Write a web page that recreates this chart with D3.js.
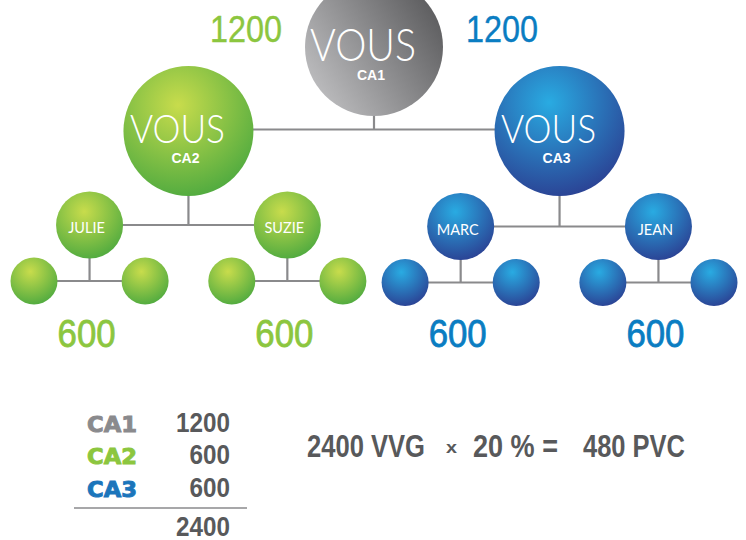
<!DOCTYPE html>
<html><head><meta charset="utf-8">
<script src="https://cdn.jsdelivr.net/npm/d3@7/dist/d3.min.js"></script>
<style>
html,body{margin:0;padding:0;background:#fff;}
svg{display:block;}
</style></head>
<body><svg id="c" width="746" height="540"></svg>
<script>
// ---- data ----
const rootLabel = "VOUS";
const caLabels = ["CA1", "CA2", "CA3"];
const caValues = [1200, 600, 600];
const caGroups = ["grey", "green", "blue"];
const branchValues = [1200, 1200];          // shown above CA2 / CA3 branches
const teamNames = ["JULIE", "SUZIE", "MARC", "JEAN"];
const teamValues = [600, 600, 600, 600];
const leavesPerMember = [2, 2, 2, 2];
const totalVVG = 2400;
const ratePct = 20;
const pvc = 480;

// ---- hierarchy built from the arrays ----
const treeData = {
  name: rootLabel, sub: caLabels[0], group: caGroups[0],
  children: [1, 2].map((ci, k) => ({
    name: rootLabel, sub: caLabels[ci], group: caGroups[ci], branch: branchValues[k],
    children: teamNames.slice(k * 2, k * 2 + 2).map((n, j) => ({
      name: n, group: caGroups[ci], value: teamValues[k * 2 + j],
      children: d3.range(leavesPerMember[k * 2 + j]).map(() => ({ group: caGroups[ci] }))
    }))
  }))
};

const svg = d3.select("#c");

const root = d3.hierarchy(treeData);
d3.tree().nodeSize([1, 1]).separation((a, b) => {
  if (a.parent === b.parent) return 1;
  if (a.parent && b.parent && a.parent.parent === b.parent.parent) return 0.78;
  return 0.56;
})(root);

const leaves = root.leaves();
const x = d3.scaleLinear()
  .domain(d3.extent(leaves, d => d.x))
  .range([34, 714]);
const y = d3.scaleOrdinal().domain([0, 1, 2, 3]).range([47, 131, 225, 281]);
const r = d3.scaleOrdinal().domain([0, 1, 2, 3]).range([69, 65, 33.5, 23.5]);
const groupShift = d3.scaleOrdinal().domain(["grey", "green", "blue"]).range([0, 0, 1.5]);

root.each(d => { d.px = x(d.x); d.py = y(d.depth) + (d.depth >= 2 ? groupShift(d.data.group) : 0); });

// ---- gradients ----
const defs = svg.append("defs");
const rg = (id, c0, c1, cx, cy, rr) => {
  const g = defs.append("radialGradient").attr("id", id)
    .attr("cx", cx).attr("cy", cy).attr("fx", cx).attr("fy", cy).attr("r", rr);
  g.append("stop").attr("offset", "0%").attr("stop-color", c0);
  g.append("stop").attr("offset", "100%").attr("stop-color", c1);
};
rg("green", "#c8dc4c", "#4ca93f", "42%", "30%", "75%");
rg("blue", "#29abe2", "#2b3a8e", "42%", "28%", "80%");
const lg = defs.append("linearGradient").attr("id", "grey")
  .attr("x1", "0%").attr("y1", "85%").attr("x2", "100%").attr("y2", "20%");
lg.append("stop").attr("offset", "0%").attr("stop-color", "#c3c3c5");
lg.append("stop").attr("offset", "100%").attr("stop-color", "#58585a");

// ---- connectors ----
const lineCol = "#8a8a8c";
const links = svg.append("g").attr("stroke", lineCol).attr("stroke-width", 2.2).attr("fill", "none");
root.descendants().filter(d => d.children).forEach(d => {
  const cy = d.depth === 0 ? d.children[0].py - 1.5 : d.children[0].py;
  const c0 = d.children[0], c1 = d.children[d.children.length - 1];
  links.append("line").attr("x1", d.px).attr("x2", d.px).attr("y1", d.py).attr("y2", cy);
  links.append("line").attr("x1", c0.px).attr("x2", c1.px).attr("y1", cy).attr("y2", cy);
});

// ---- circles ----
svg.append("g").selectAll("circle").data(root.descendants()).join("circle")
  .attr("cx", d => d.px).attr("cy", d => d.py).attr("r", d => r(d.depth))
  .attr("fill", d => `url(#${d.data.group})`);

// ---- labels in circles ----
const big = root.descendants().filter(d => d.depth <= 1);
const vousW = d3.scaleOrdinal().domain([0, 1]).range([106, 95]);
const vousF = d3.scaleOrdinal().domain([0, 1]).range([46, 40]);
svg.append("g").selectAll("text").data(big).join("text")
  .attr("x", d => d.px - 11).attr("y", d => d.depth === 0 ? 61 : d.py + 12)
  .attr("text-anchor", "middle")
  .attr("font-family", "Lato, 'Open Sans', sans-serif").attr("font-weight", 300)
  .attr("font-size", d => vousF(d.depth)).attr("fill", "#fff")
  .attr("textLength", d => vousW(d.depth)).attr("lengthAdjust", "spacingAndGlyphs")
  .text(d => d.data.name);
svg.append("g").selectAll("text").data(big).join("text")
  .attr("x", d => d.px - 3).attr("y", d => d.depth === 0 ? 80 : d.py + 32)
  .attr("text-anchor", "middle")
  .attr("font-family", "'Liberation Sans', Arial, sans-serif").attr("font-weight", 700)
  .attr("font-size", 14).attr("fill", "#fff")
  .text(d => d.data.sub);

const members = root.descendants().filter(d => d.depth === 2);
svg.append("g").selectAll("text").data(members).join("text")
  .attr("x", d => d.px - 3).attr("y", d => d.py + 8)
  .attr("text-anchor", "middle")
  .attr("font-family", "Lato, 'Open Sans', sans-serif").attr("font-weight", 400)
  .attr("font-size", 14.5).attr("fill", "#fff")
  .text(d => d.data.name);

// ---- values ----
const colorOf = d3.scaleOrdinal().domain(["grey", "green", "blue"]).range(["#8a8a8d", "#8cc63f", "#0a7dc2"]);
const narrow = "'Liberation Sans Narrow', 'Arial Narrow', 'Liberation Sans', sans-serif";

svg.append("g").selectAll("text").data(root.children).join("text")
  .attr("x", d => d3.interpolateNumber(d.px, root.px)(0.31))
  .attr("y", 42)
  .attr("text-anchor", "middle")
  .attr("font-family", narrow).attr("font-size", 37)
  .attr("fill", d => colorOf(d.data.group))
  .attr("stroke", d => colorOf(d.data.group)).attr("stroke-width", 0.4)
  .attr("textLength", 72).attr("lengthAdjust", "spacingAndGlyphs")
  .text(d => d.data.branch);

svg.append("g").selectAll("text").data(members).join("text")
  .attr("x", d => d.px - 3).attr("y", 347)
  .attr("text-anchor", "middle")
  .attr("font-family", narrow).attr("font-size", 38)
  .attr("fill", d => colorOf(d.data.group))
  .attr("stroke", d => colorOf(d.data.group)).attr("stroke-width", 0.8)
  .attr("textLength", 58).attr("lengthAdjust", "spacingAndGlyphs")
  .text(d => d.data.value);

// ---- summary table ----
const dark = "#58595b";
const rowY = d3.scaleOrdinal().domain([0, 1, 2]).range([432, 464, 497]);
const labCol = d3.scaleOrdinal().domain([0, 1, 2]).range(["#8a8a8d", "#8cc63f", "#1b75bb"]);
const tbl = svg.append("g");
tbl.selectAll("text.lab").data(caLabels).join("text").attr("class", "lab")
  .attr("x", 87).attr("y", (d, i) => rowY(i))
  .attr("font-family", "'DejaVu Sans', sans-serif").attr("font-weight", 700)
  .attr("font-size", 20.5).attr("fill", (d, i) => labCol(i))
  .attr("stroke", (d, i) => labCol(i)).attr("stroke-width", 0.9)
  .attr("textLength", 50).attr("lengthAdjust", "spacingAndGlyphs")
  .text(d => d);
tbl.selectAll("text.val").data(caValues).join("text").attr("class", "val")
  .attr("x", 230).attr("y", (d, i) => rowY(i))
  .attr("text-anchor", "end")
  .attr("font-family", narrow).attr("font-weight", 700)
  .attr("font-size", 27).attr("fill", dark)
  .attr("textLength", d => String(d).length * 13.5).attr("lengthAdjust", "spacingAndGlyphs")
  .text(d => d);
tbl.append("line").attr("x1", 74).attr("x2", 247).attr("y1", 508).attr("y2", 508)
  .attr("stroke", lineCol).attr("stroke-width", 1.5);
tbl.append("text").attr("x", 230).attr("y", 536).attr("text-anchor", "end")
  .attr("font-family", narrow).attr("font-weight", 700)
  .attr("font-size", 27).attr("fill", dark)
  .attr("textLength", 54).attr("lengthAdjust", "spacingAndGlyphs")
  .text(d3.sum(caValues));

// ---- formula ----
const f = svg.append("g").attr("font-family", narrow).attr("font-weight", 700).attr("fill", dark);
f.append("text").attr("x", 307).attr("y", 457).attr("font-size", 31)
  .attr("textLength", 118).attr("lengthAdjust", "spacingAndGlyphs").text(`${totalVVG} VVG`);
f.append("text").attr("x", 446).attr("y", 453).attr("font-size", 17)
  .attr("textLength", 11).attr("lengthAdjust", "spacingAndGlyphs").text("x");
f.append("text").attr("x", 473).attr("y", 457).attr("font-size", 31)
  .attr("textLength", 85).attr("lengthAdjust", "spacingAndGlyphs").text(`${ratePct} % =`);
f.append("text").attr("x", 583).attr("y", 457).attr("font-size", 31)
  .attr("textLength", 102).attr("lengthAdjust", "spacingAndGlyphs").text(`${pvc} PVC`);
</script>
</body></html>
